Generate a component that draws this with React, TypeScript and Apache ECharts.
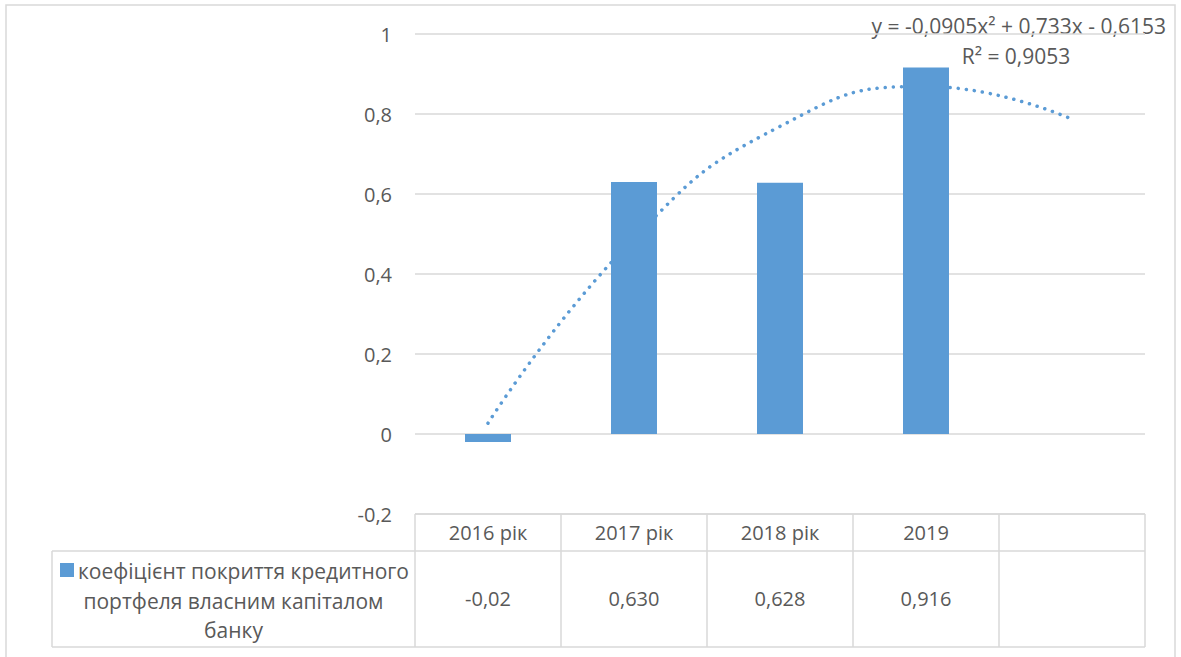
import React, { useEffect, useRef } from "react";
import * as echarts from "echarts";

const categories = ["2016 рік", "2017 рік", "2018 рік", "2019", ""];
const barValues: (number | null)[] = [-0.02, 0.63, 0.628, 0.916, null];
const tableLabels = ["-0,02", "0,630", "0,628", "0,916", ""];
const trendValues = [0.027, 0.489, 0.769, 0.869, 0.787];
const seriesName = "коефіцієнт покриття кредитного портфеля власним капіталом банку";
const legendLines = ["коефіцієнт покриття кредитного", "портфеля власним капіталом", "банку"];
const equationText = "y = -0,0905x² + 0,733x - 0,6153";
const r2Text = "R² = 0,9053";
const yMin = -0.2;
const yMax = 1;
const yInterval = 0.2;

const W = 1181;
const H = 657;
const GRID_LEFT = 415;
const GRID_RIGHT = 1145;
const GRID_TOP = 34;
const TABLE_TOP = 514;
const ROW1 = 551;
const TABLE_BOTTOM = 647;
const LEGEND_LEFT = 52;
const FONT = "'Open Sans', 'Noto Sans', sans-serif";
const TEXT = "#595959";
const LINE = "#d9d9d9";
const BLUE = "#5b9bd5";

export default function App() {
  const ref = useRef<HTMLDivElement>(null);
  useEffect(() => {
    if (!ref.current) return;
    const chart = echarts.init(ref.current, null, { renderer: "svg" });
    const catW = (GRID_RIGHT - GRID_LEFT) / categories.length;
    const lineStyle = { stroke: LINE, lineWidth: 1.5 };
    const graphics: any[] = [
      {
        type: "rect",
        shape: { x: 6, y: 5, width: 1169, height: 670 },
        style: { fill: "none", stroke: LINE, lineWidth: 1.5 },
        silent: true,
      },
      { type: "line", shape: { x1: GRID_LEFT, y1: TABLE_TOP, x2: GRID_RIGHT, y2: TABLE_TOP }, style: lineStyle },
      { type: "line", shape: { x1: LEGEND_LEFT, y1: ROW1, x2: GRID_RIGHT, y2: ROW1 }, style: lineStyle },
      { type: "line", shape: { x1: LEGEND_LEFT, y1: TABLE_BOTTOM, x2: GRID_RIGHT, y2: TABLE_BOTTOM }, style: lineStyle },
      { type: "line", shape: { x1: LEGEND_LEFT, y1: ROW1, x2: LEGEND_LEFT, y2: TABLE_BOTTOM }, style: lineStyle },
    ];
    for (let i = 0; i <= categories.length; i++) {
      const x = GRID_LEFT + i * catW;
      graphics.push({ type: "line", shape: { x1: x, y1: TABLE_TOP, x2: x, y2: TABLE_BOTTOM }, style: lineStyle });
    }
    const cellCenter = (LEGEND_LEFT + GRID_LEFT) / 2;
    graphics.push({ type: "rect", shape: { x: 60, y: 563, width: 14, height: 14 }, style: { fill: BLUE } });
    graphics.push({
      type: "text",
      x: 78,
      y: 571,
      style: { text: legendLines[0], fill: TEXT, font: `21px ${FONT}`, textAlign: "left", textVerticalAlign: "middle" },
    });
    graphics.push({
      type: "text",
      x: cellCenter,
      y: 601,
      style: { text: legendLines[1], fill: TEXT, font: `21px ${FONT}`, textAlign: "center", textVerticalAlign: "middle" },
    });
    graphics.push({
      type: "text",
      x: cellCenter,
      y: 630,
      style: { text: legendLines[2], fill: TEXT, font: `21px ${FONT}`, textAlign: "center", textVerticalAlign: "middle" },
    });
    graphics.push({
      type: "text",
      x: 1166,
      y: 26,
      style: { text: equationText, fill: TEXT, font: `21px ${FONT}`, textAlign: "right", textVerticalAlign: "middle" },
    });
    graphics.push({
      type: "text",
      x: 1016,
      y: 56,
      style: { text: r2Text, fill: TEXT, font: `21px ${FONT}`, textAlign: "center", textVerticalAlign: "middle" },
    });

    const fmt = (v: number) => {
      const n = Number(v.toFixed(1));
      return String(n).replace(".", ",");
    };

    chart.setOption({
      animation: false,
      backgroundColor: "#ffffff",
      textStyle: { fontFamily: FONT },
      grid: { left: GRID_LEFT, right: W - GRID_RIGHT, top: GRID_TOP, bottom: H - TABLE_TOP, containLabel: false },
      xAxis: [
        {
          type: "category",
          data: categories,
          position: "bottom",
          axisLine: { show: false },
          axisTick: { show: false },
          axisLabel: { color: TEXT, fontSize: 20, fontFamily: FONT, margin: 8, interval: 0 },
        },
        {
          type: "category",
          data: tableLabels,
          position: "bottom",
          offset: 66,
          axisLine: { show: false },
          axisTick: { show: false },
          axisLabel: { color: TEXT, fontSize: 20, fontFamily: FONT, margin: 8, interval: 0 },
        },
      ],
      yAxis: {
        type: "value",
        min: yMin,
        max: yMax,
        interval: yInterval,
        axisLine: { show: false },
        axisTick: { show: false },
        axisLabel: { color: TEXT, fontSize: 20, fontFamily: FONT, margin: 23, formatter: fmt },
        splitLine: { lineStyle: { color: LINE, width: 1.5 } },
      },
      series: [
        {
          name: "trend",
          type: "line",
          xAxisIndex: 0,
          data: trendValues,
          smooth: true,
          symbol: "none",
          z: 1,
          lineStyle: { color: BLUE, width: 3.5, type: [0.1, 8], cap: "round" },
        },
        {
          name: seriesName,
          type: "bar",
          xAxisIndex: 0,
          data: barValues,
          barWidth: "31.5%",
          z: 3,
          itemStyle: { color: BLUE },
        },
      ],
      graphic: graphics,
    });
    return () => chart.dispose();
  }, []);
  return (
    <div
      ref={ref}
      style={{ position: "absolute", left: 0, top: 0, width: W, height: H, background: "#fff" }}
    />
  );
}
